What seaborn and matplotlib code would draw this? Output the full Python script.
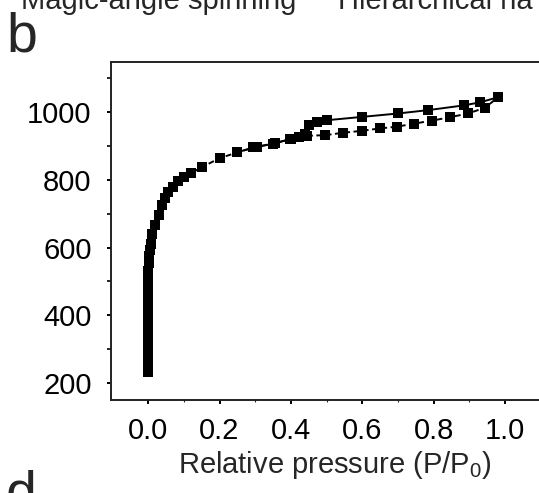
import matplotlib
matplotlib.use("Agg")
import matplotlib.pyplot as plt
import seaborn as sns
import pandas as pd
import numpy as np
from matplotlib.ticker import FixedLocator

# ---- data ----
ads_p = [0.0005, 0.0005, 0.0005, 0.0005, 0.0005, 0.0005, 0.0005, 0.0005, 0.0005, 0.0005,
         0.0005, 0.0005, 0.0006, 0.0007, 0.0008, 0.001, 0.002, 0.003, 0.005, 0.007,
         0.012, 0.02, 0.03, 0.04, 0.047, 0.055, 0.07, 0.085, 0.10, 0.12,
         0.15, 0.20, 0.25, 0.295, 0.35, 0.398, 0.423, 0.445, 0.496, 0.546,
         0.60, 0.65, 0.697, 0.745, 0.795, 0.846, 0.896, 0.944, 0.98]
ads_v = [232, 250, 270, 290, 310, 330, 350, 370, 390, 410,
         430, 450, 470, 490, 510, 530, 555, 575, 593, 612,
         640, 666, 696, 725, 746, 763, 778, 796, 808, 820,
         837, 864, 881, 896, 907, 920, 926, 930, 932, 939,
         945, 952, 957, 966, 975, 985, 996, 1013, 1044]

des_p = [0.98, 0.93, 0.885, 0.785, 0.70, 0.60, 0.50, 0.473, 0.451,
         0.44, 0.40, 0.355, 0.305, 0.25]
des_v = [1044, 1029, 1020, 1006, 996, 986, 976, 970, 963,
         935, 921, 908, 897, 882]

x_ticks = [0.0, 0.2, 0.4, 0.6, 0.8, 1.0]
x_ticklabels = ["0.0", "0.2", "0.4", "0.6", "0.8", "1.0"]
y_ticks = [200, 400, 600, 800, 1000]
y_ticklabels = ["200", "400", "600", "800", "1000"]

# ---- style ----
sns.set_style("ticks")
plt.rcParams["font.family"] = ["Liberation Sans", "DejaVu Sans"]
plt.rcParams["mathtext.fontset"] = "custom"
plt.rcParams["mathtext.rm"] = "Liberation Sans"
plt.rcParams["mathtext.it"] = "Liberation Sans:italic"

W, H = 539, 493
fig = plt.figure(figsize=(W / 100, H / 100), dpi=100)
ax = fig.add_axes([111 / W, (H - 400) / H, (558 - 111) / W, (400 - 62) / H])

ads = pd.DataFrame({"p": ads_p, "v": ads_v})
des = pd.DataFrame({"p": des_p, "v": des_v})

common = dict(sort=False, estimator=None, errorbar=None, ax=ax, color="black",
              linewidth=1.4, marker="s", markersize=6.8,
              markeredgewidth=0, markerfacecolor="black")
sns.lineplot(data=ads, x="p", y="v", linestyle=(0, (3.0, 1.8)), **common)
sns.lineplot(data=des, x="p", y="v", **common)

ax.set_xlim(-0.104, 1.148)
ax.set_ylim(150, 1148)

ax.set_xticks(x_ticks)
ax.set_xticklabels(x_ticklabels)
ax.xaxis.set_minor_locator(FixedLocator([0.1, 0.3, 0.5, 0.7, 0.9]))
ax.set_yticks(y_ticks)
ax.set_yticklabels(y_ticklabels)
ax.yaxis.set_minor_locator(FixedLocator([300, 500, 700, 900, 1100]))

ax.tick_params(axis="both", which="major", direction="out", length=3, width=1.4,
               labelsize=21, colors="black")
ax.tick_params(axis="x", which="major", pad=9)
ax.tick_params(axis="y", which="major", pad=11)
ax.tick_params(axis="y", which="minor", direction="out", length=3, width=1.4)
ax.tick_params(axis="x", which="minor", direction="out", length=1.5, width=0.8)

for side in ["left", "bottom", "top"]:
    ax.spines[side].set_linewidth(1.4)
    ax.spines[side].set_color("#222222")
ax.spines["right"].set_visible(False)

ax.set_xlabel(r"Relative pressure (P/P$_{\mathrm{0}}$)", fontsize=21, labelpad=3)
ax.set_ylabel("")

# cropped panel texts (cut at the edges, as in the reference)
fig.text(21 / W, 1 - 9 / H, "Magic-angle spinning", fontsize=21, ha="left", va="baseline")
fig.text(338 / W, 1 - 9 / H, "Hierarchical na", fontsize=21, ha="left", va="baseline")
fig.text(6 / W, 1 - 52 / H, "b", fontsize=40, ha="left", va="baseline")
fig.text(6 / W, 1 - 509 / H, "d", fontsize=40, ha="left", va="baseline")

fig.savefig("out.png", dpi=100)
